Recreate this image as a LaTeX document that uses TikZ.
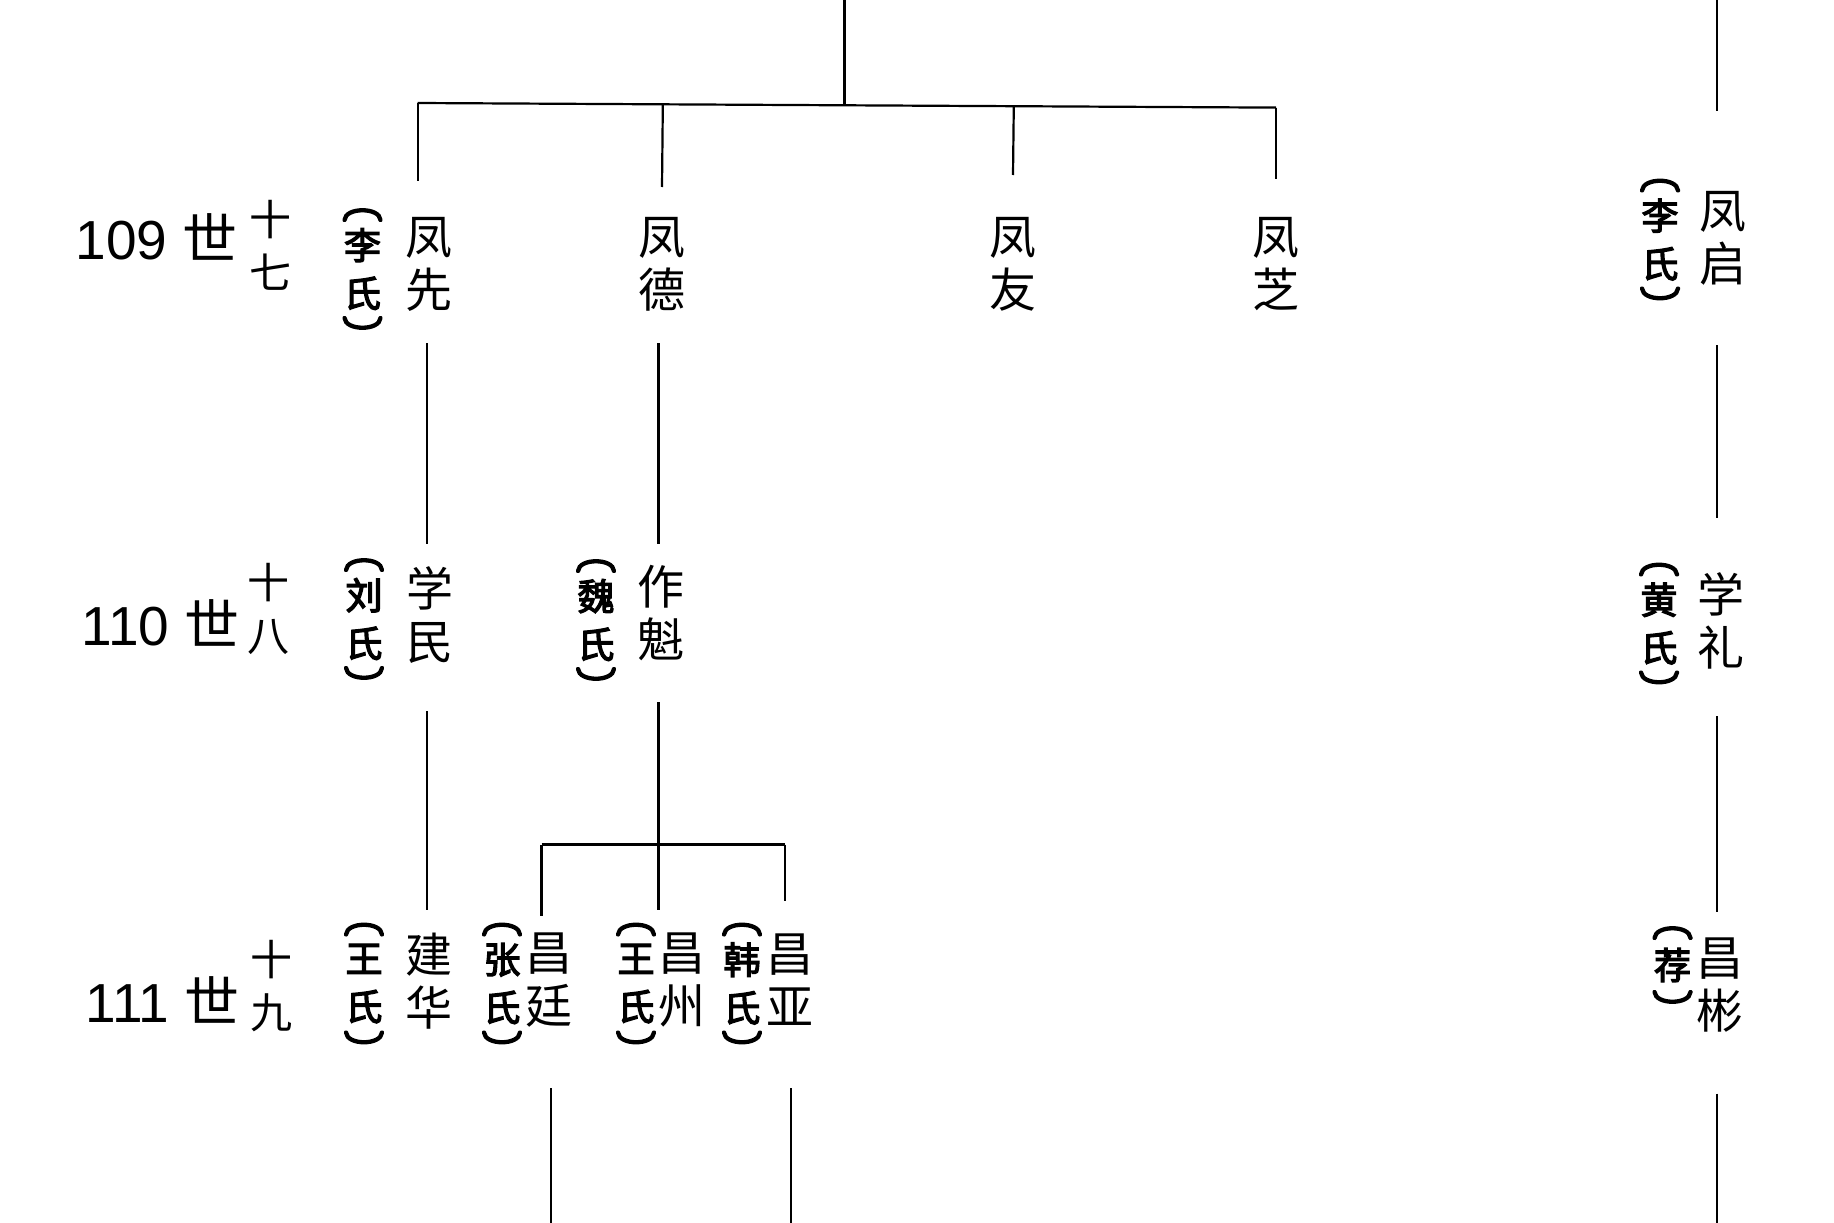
\documentclass[tikz,border=0pt]{standalone}
\usepackage{fontspec}
\usetikzlibrary{calc}
\newfontfamily\cjk{Noto Sans CJK SC}
\newfontfamily\cjkb[FakeBold=3.5]{Noto Sans CJK SC}
\newfontfamily\lat{Liberation Sans}
\newcommand\nmfont{\cjk\fontsize{47}{53}\selectfont}
\newcommand\wffont{\cjkb\fontsize{37}{48}\selectfont}
\newcommand\gnfont{\lat\fontsize{55}{60}\selectfont}
\newcommand\gsfont{\cjk\fontsize{42}{53}\selectfont}
\tikzset{
  pname/.style={font=\nmfont, align=center, inner sep=0pt},
  wife/.style={font=\wffont, align=center, inner sep=0pt},
  gen/.style={font=\gnfont, inner sep=0pt, anchor=east},
  gsub/.style={font=\gsfont, align=center, inner sep=0pt},
  link/.style={line width=2.2pt, line cap=butt},
  paren/.style={line width=4.3pt, line cap=round}
}
% parentheses round a wife's name: #1 node, #2 offset of the ends, #3 height
\newcommand\wpar[3]{%
  \draw[paren] ($(#1)+(-18,-#2)$) .. controls ($(#1)+(-17,{-#2-#3})$) and ($(#1)+(17,{-#2-#3})$) .. ($(#1)+(18,-#2)$);
  \draw[paren] ($(#1)+(-18,#2)$) .. controls ($(#1)+(-17,{#2+#3})$) and ($(#1)+(17,{#2+#3})$) .. ($(#1)+(18,#2)$);
}
\begin{document}
\begin{tikzpicture}[x=1pt,y=-1pt]
\fill[white] (0,0) rectangle (1834,1223);
\useasboundingbox (0,0) rectangle (1834,1223);

% generation labels
\node[gen] (g109) at (238,237) {109 {\cjk 世}};
\node[gen] (g110) at (240,623) {110 {\cjk 世}};
\node[gen] (g111) at (240,1000) {111 {\cjk 世}};
\node[gsub] (s109) at (270,245) {十\\七};
\node[gsub] (s110) at (268,609) {十\\八};
\node[gsub] (s111) at (271,986) {十\\九};

% generation 109
\node[pname] (fx) at (428.5,264) {凤\\先};
\node[pname] (fd) at (662,264) {凤\\德};
\node[pname] (fy) at (1013,264) {凤\\友};
\node[pname] (fz) at (1276,264) {凤\\芝};
\node[pname] (fq) at (1722.5,238) {凤\\启};
\node[wife] (w1) at (362.5,269) {李\\氏};
\node[wife] (w2) at (1660,239.5) {李\\氏};

% generation 110
\node[pname] (xm) at (429.5,615) {学\\民};
\node[pname] (zk) at (660.5,613.5) {作\\魁};
\node[pname] (xl) at (1721,621) {学\\礼};
\node[wife] (w3) at (364,619) {刘\\氏};
\node[wife] (w4) at (596,620) {魏\\氏};
\node[wife] (w5) at (1659,623.5) {黄\\氏};

% generation 111
\node[pname] (jh) at (428.5,981) {建\\华};
\node[pname] (ct) at (549,980) {昌\\廷};
\node[pname] (cz) at (682,980) {昌\\州};
\node[pname] (cy) at (790,980) {昌\\亚};
\node[pname] (cb) at (1720,985) {昌\\彬};
\node[wife] (w6) at (364,983.5) {王\\氏};
\node[wife] (w7) at (502,983.5) {张\\氏};
\node[wife] (w8) at (636,983.5) {王\\氏};
\node[wife] (w9) at (742,983.5) {韩\\氏};
\node[wife] (w10) at (1672.5,965) {荐};

% parentheses
\wpar{w1}{49}{13}
\wpar{w2}{49}{13}
\wpar{w3}{49}{13}
\wpar{w4}{49}{13}
\wpar{w5}{49}{13}
\wpar{w6}{49}{13}
\wpar{w7}{49}{13}
\wpar{w8}{49}{13}
\wpar{w9}{49}{13}
\wpar{w10}{27}{13}

% free ends
\coordinate (topc) at (844.5,0);
\coordinate (junc) at (844.5,105.3);
\coordinate (barL) at (417.6,103);
\coordinate (barR) at (1276,107.6);
\coordinate (topr) at (1717,0);
\coordinate (bar2L) at (541.5,844.5);
\coordinate (bar2R) at (785,844.5);

% top family bar
\draw[link] (topc) -- (junc);
\draw[link] (barL) -- (barR);
\draw[link] (barL) -- ($(fx)+(-10.9,-83)$);
\draw[link] ($(barL)!(fd)!(barR)$) -- ($(fd)+(0,-77)$);
\draw[link] ($(barL)!(fy)!(barR)$) -- ($(fy)+(0,-89)$);
\draw[link] (barR) -- ($(fz)+(0,-85)$);
\draw[link] (topr) -- ($(fq)+(-5.5,-127)$);

% 109 -> 110
\draw[link] ($(fx)+(-1.5,79)$) -- ($(xm)+(-2.5,-71)$);
\draw[link] ($(fd)+(-3.5,79)$) -- ($(zk)+(-2,-69.5)$);
\draw[link] ($(fq)+(-5.5,107)$) -- ($(xl)+(-4,-103)$);

% 110 -> 111
\draw[link] ($(xm)+(-2.5,96)$) -- ($(jh)+(-1.5,-71)$);
\draw[link] ($(zk)+(-2,88.5)$) -- ($(cz)+(-23.5,-70)$);
\draw[link] (bar2L) -- (bar2R);
\draw[link] (bar2L) -- ($(ct)+(-7.5,-64)$);
\draw[link] (bar2R) -- ($(cy)+(-5,-79.4)$);
\draw[link] ($(xl)+(-4,95)$) -- ($(cb)+(-3,-73)$);

% 111 -> beyond
\draw[link] ($(ct)+(2,108)$) -- ($(ct)+(2,245)$);
\draw[link] ($(cy)+(0.6,108)$) -- ($(cy)+(0.6,245)$);
\draw[link] ($(cb)+(-3,108.6)$) -- ($(cb)+(-3,240)$);
\end{tikzpicture}
\end{document}
